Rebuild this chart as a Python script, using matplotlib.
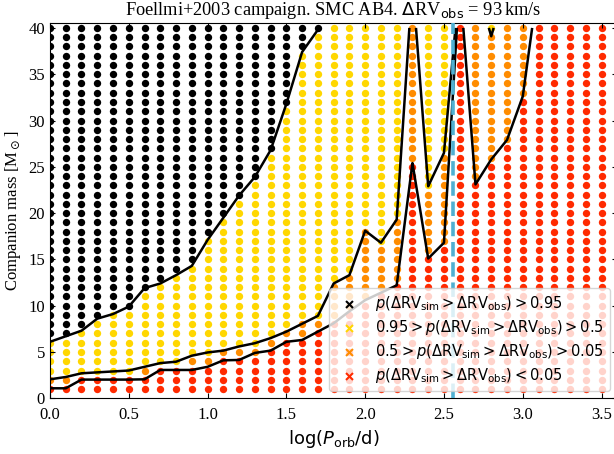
import numpy as np
import matplotlib
matplotlib.use("Agg")
import matplotlib.pyplot as plt

plt.rcParams["font.family"] = "serif"
plt.rcParams["font.serif"] = ["Liberation Serif", "DejaVu Serif"]
plt.rcParams["mathtext.fontset"] = "dejavusans"

# grid of simulated orbits: log(P/d) columns and companion masses (rows)
logp = np.round(np.arange(0.0, 3.55, 0.1), 2)
masses = np.arange(1, 41)

# companion mass (Msun) where p(dRV_sim > dRV_obs) crosses 0.05 / 0.5 / 0.95,
# one value per log P column; 45 = not crossed inside the grid
m_p05 = [1.08, 1.08, 2.02, 2.02, 2.02, 2.02, 2.05, 3.06, 3.06, 3.06, 3.4, 4.1,
         4.14, 4.9, 5.15, 6.1, 6.3, 7.2, 8.1, 9.4, 10.6, 11.4, 12.2, 25.4,
         15.1, 16.8, 45, 23.1, 25.8, 27.9, 32.6, 45, 45, 45, 45, 45]
m_p50 = [2.05, 2.3, 2.7, 2.8, 2.9, 3.0, 3.4, 3.8, 3.95, 4.6, 4.95, 5.15,
         5.6, 5.95, 6.5, 7.2, 8.05, 8.9, 12.4, 13.3, 18.1, 16.8, 19.3, 45,
         22.9, 26.5, 45, 45, 39.1, 45, 45, 45, 45, 45, 45, 45]
m_p95 = [6.1, 6.7, 7.3, 8.6, 9.1, 9.9, 11.9, 12.4, 13.3, 14.3, 17.1, 19.5,
         21.9, 23.9, 26.8, 31.8, 37.4, 39.8, 45, 45, 45, 45, 45, 45,
         45, 45, 45, 45, 45, 45, 45, 45, 45, 45, 45, 45]

logp_obs_line = 2.557
drv_obs = 93

class_colors = ["#ff2a00", "#ff8c00", "#ffd700", "black"]
class_labels = [
    r"$p(\Delta \mathrm{RV}_{\rm sim} > \Delta \mathrm{RV}_{\rm obs}) > 0.95$",
    r"$0.95 > p(\Delta \mathrm{RV}_{\rm sim} > \Delta \mathrm{RV}_{\rm obs}) > 0.5$",
    r"$0.5 > p(\Delta \mathrm{RV}_{\rm sim} > \Delta \mathrm{RV}_{\rm obs}) > 0.05$",
    r"$p(\Delta \mathrm{RV}_{\rm sim} > \Delta \mathrm{RV}_{\rm obs}) < 0.05$",
]

X, Y = np.meshgrid(logp, masses)
bounds = [np.array(m)[None, :] for m in (m_p05, m_p50, m_p95)]
cls = sum((Y >= b).astype(int) for b in bounds)

fig = plt.figure(figsize=(6.14, 4.54), dpi=100)
ax = fig.add_axes([0.0814, 0.1227, 0.924, 0.826])

for k in range(4):
    m = cls == k
    ax.scatter(X[m], Y[m], s=28, color=class_colors[k], linewidths=0, zorder=1)

# probability contours: mass above/below each crossing curve
for b in bounds:
    ax.contour(X, Y, Y - b, levels=[0], colors="k", linewidths=1.8, zorder=2)

ax.axvline(logp_obs_line, color="#4fb0d2", ls="--", lw=2.6, dashes=(4, 1.6), zorder=3)

# legend entries drawn as crosses
for k, lab in zip([3, 2, 1, 0], class_labels):
    ax.scatter([], [], marker="x", color=class_colors[k], s=25, label=lab)
ax.legend(loc="lower right", fontsize=10.5, labelspacing=0.35)

ax.set_xlim(0, 3.6)
ax.set_ylim(0, 40.5)
ax.set_xticks(np.arange(0, 3.6, 0.5))
ax.set_yticks(np.arange(0, 41, 5))
ax.tick_params(direction="in", top=True, right=True, labelsize=12)
ax.tick_params(axis="x", pad=6)
ax.set_xlabel(r"$\log(P_{\rm orb}/{\rm d})$", fontsize=13)
ax.set_ylabel(r"Companion mass [M$_\odot$]", fontsize=12)
ax.set_title(r"Foellmi+2003 campaign. SMC AB4. $\Delta$RV$_{\rm obs}$ = %d$\,$km/s" % drv_obs,
             fontsize=13.2)

fig.savefig("out.png", dpi=100)
